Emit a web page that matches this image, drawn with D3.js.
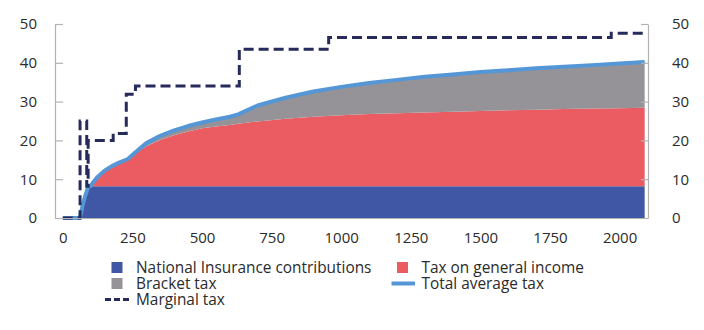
<!DOCTYPE html>
<html>
<head>
<meta charset="utf-8">
<script src="https://cdn.jsdelivr.net/npm/d3@7"></script>
<style>
body { margin: 0; background: #fff; }
text { font-family: "Open Sans", sans-serif; fill: #2b2b2b; }
</style>
</head>
<body>
<svg id="svg" width="704" height="330"></svg>
<script>
let svg; // the main container, <svg>
let areas, lines; // <g> for the stacked areas and the two lines
let xAxis, yAxisLeft, yAxisRight; // <g> for the axes
let legend; // <g> for the legend

let width = 704, height = 330;
let margin = { top: 24, right: 56, bottom: 112, left: 55 };

// income, 1000 NOK
let income = [0, 50, 62, 70, 80, 92, 100, 110, 125, 150, 175, 200, 234, 260, 300, 350, 400, 450, 500,
    550, 600, 630, 700, 800, 900, 1000, 1100, 1200, 1300, 1400, 1500, 1600, 1700, 1800, 1900, 2000, 2090];
// average tax rates, per cent
let nationalInsurance = [0, 0, 0, 2.9, 5.6, 8.2, 8.2, 8.2, 8.2, 8.2, 8.2, 8.2, 8.2, 8.2, 8.2, 8.2, 8.2, 8.2, 8.2,
    8.2, 8.2, 8.2, 8.2, 8.2, 8.2, 8.2, 8.2, 8.2, 8.2, 8.2, 8.2, 8.2, 8.2, 8.2, 8.2, 8.2, 8.2];
let generalIncome = [0, 0, 0, 0, 0, 0, 0, 1.1, 2.4, 4.0, 5.1, 5.95, 6.8, 8.4, 10.3, 11.9, 13.1, 14.1, 14.9,
    15.4, 15.8, 16.1, 16.7, 17.4, 17.9, 18.3, 18.6, 18.8, 19.0, 19.2, 19.4, 19.6, 19.7, 19.9, 20.0, 20.1, 20.2];
let bracketTax = [0, 0, 0, 0, 0, 0, 0, 0, 0, 0, 0, 0.05, 0.2, 0.3, 0.8, 1.1, 1.3, 1.4, 1.5,
    1.8, 2.1, 2.4, 4.1, 5.4, 6.5, 7.3, 8.0, 8.6, 9.2, 9.6, 10.0, 10.3, 10.7, 10.9, 11.2, 11.5, 11.8];

// marginal tax, step line
let marginalIncome = [0, 62, 86, 91, 181, 228, 261, 634, 955, 1970, 2090];
let marginalRate = [0, 25, 8.2, 20, 21.8, 31.9, 34.0, 43.5, 46.5, 47.6, 47.6];

let yTicks = [0, 10, 20, 30, 40, 50];
let xTicks = [0, 250, 500, 750, 1000, 1250, 1500, 1750, 2000];

let seriesKeys = ["ni", "general", "bracket"];
let seriesColors = { ni: "#3f57a4", general: "#ea5c62", bracket: "#959397" };
let totalColor = "#5597d6", marginalColor = "#262b5c";

let legendItems = [
    { label: "National Insurance contributions", type: "box", color: seriesColors.ni, col: 0, row: 0 },
    { label: "Tax on general income", type: "box", color: seriesColors.general, col: 1, row: 0 },
    { label: "Bracket tax", type: "box", color: seriesColors.bracket, col: 0, row: 1 },
    { label: "Total average tax", type: "line", color: totalColor, col: 1, row: 1 },
    { label: "Marginal tax", type: "dash", color: marginalColor, col: 0, row: 2 }
];

function initialize() {
    svg = d3.select("#svg");
    svg.selectAll("*").remove();
    areas = svg.append("g");
    lines = svg.append("g");
    xAxis = svg.append("g");
    yAxisLeft = svg.append("g");
    yAxisRight = svg.append("g");
    legend = svg.append("g");
}

function update() {
    let plotW = width - margin.left - margin.right;
    let plotH = height - margin.top - margin.bottom;

    let xScale = d3.scaleLinear().domain([-28, 2102]).range([margin.left, margin.left + plotW]);
    let yScale = d3.scaleLinear().domain([0, 50]).range([margin.top + plotH, margin.top]);

    let rows = income.map((d, i) => ({
        income: d,
        ni: nationalInsurance[i],
        general: generalIncome[i],
        bracket: bracketTax[i]
    }));
    let stacked = d3.stack().keys(seriesKeys)(rows);

    let area = d3.area()
        .x(d => xScale(d.data.income))
        .y0(d => yScale(d[0]))
        .y1(d => yScale(d[1]));

    areas.selectAll("path")
        .data(stacked)
        .join("path")
        .attr("d", area)
        .attr("fill", d => seriesColors[d.key]);

    // total average tax = top of the stack
    let total = rows.map(d => ({ income: d.income, value: d.ni + d.general + d.bracket }));
    lines.append("path")
        .datum(total)
        .attr("fill", "none")
        .attr("stroke", totalColor)
        .attr("stroke-width", 4)
        .attr("stroke-linejoin", "round")
        .attr("d", d3.line().x(d => xScale(d.income)).y(d => yScale(d.value)));

    let marginal = marginalIncome.map((d, i) => ({ income: d, value: marginalRate[i] }));
    lines.append("path")
        .datum(marginal)
        .attr("fill", "none")
        .attr("stroke", marginalColor)
        .attr("stroke-width", 3)
        .attr("stroke-dasharray", "10,5")
        .attr("d", d3.line().curve(d3.curveStepAfter).x(d => xScale(d.income)).y(d => yScale(d.value)));

    // axes
    xAxis
        .attr("transform", `translate(0, ${margin.top + plotH})`)
        .call(d3.axisBottom(xScale).tickValues(xTicks).tickFormat(d3.format("d"))
            .tickSize(0).tickSizeOuter(0).tickPadding(14.5));

    yAxisLeft
        .attr("transform", `translate(${margin.left}, 0)`)
        .call(d3.axisLeft(yScale).tickValues(yTicks).tickSize(-8).tickSizeOuter(0).tickPadding(18));

    yAxisRight
        .attr("transform", `translate(${margin.left + plotW}, 0)`)
        .call(d3.axisRight(yScale).tickValues(yTicks).tickSize(-7).tickSizeOuter(0).tickPadding(24));

    svg.selectAll(".domain").attr("stroke", "#b3b3b3").attr("stroke-width", 1.2);
    svg.selectAll(".tick line").attr("stroke", "#b3b3b3").attr("stroke-width", 1.2);
    svg.selectAll(".tick text").attr("font-size", 15).attr("fill", "#2b2b2b");
    xAxis.raise();

    // legend
    let colX = [111.5, 397], rowY = [267.5, 283.5, 299.5];
    let item = legend.selectAll("g")
        .data(legendItems)
        .join("g")
        .attr("transform", d => `translate(${colX[d.col]}, ${rowY[d.row]})`);

    item.filter(d => d.type === "box").append("rect")
        .attr("x", 0).attr("y", -5.5).attr("width", 11).attr("height", 11)
        .attr("fill", d => d.color);
    item.filter(d => d.type === "line").append("line")
        .attr("x1", -5.5).attr("x2", 18).attr("y1", 0).attr("y2", 0)
        .attr("stroke", d => d.color).attr("stroke-width", 4);
    item.filter(d => d.type === "dash").append("line")
        .attr("x1", -6.5).attr("x2", 18).attr("y1", 0).attr("y2", 0)
        .attr("stroke", d => d.color).attr("stroke-width", 3).attr("stroke-dasharray", "6,3");

    item.append("text")
        .attr("x", 24.5)
        .attr("dy", "0.35em")
        .attr("font-size", 15.4)
        .text(d => d.label);
}

initialize();
update();
</script>
</body>
</html>
